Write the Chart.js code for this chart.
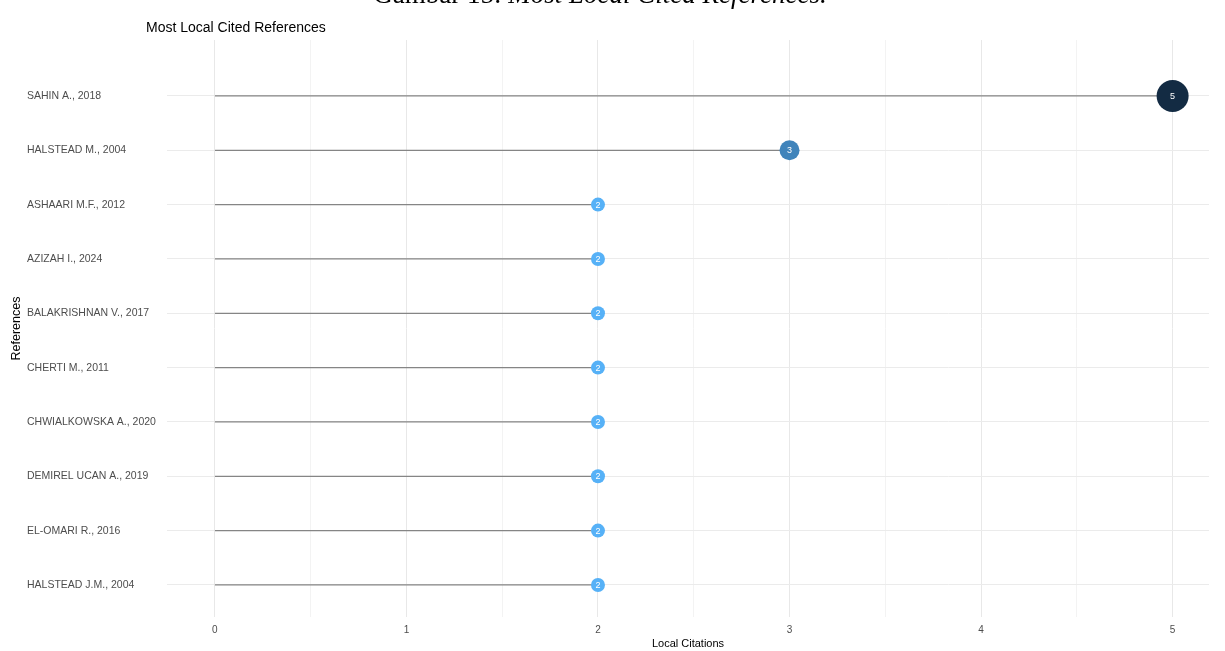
<!DOCTYPE html>
<html>
<head>
<meta charset="utf-8">
<script src="https://cdn.jsdelivr.net/npm/chart.js@4"></script>
<style>
  body { margin: 0; background: #fff; }
  #wrap { position: relative; width: 1225px; height: 651px; overflow: hidden; }
  #caption {
    position: absolute; left: 0; width: 1200px; top: -22px;
    text-align: center; font-family: "Liberation Serif", "Times New Roman", serif;
    font-size: 27px; color: #000; line-height: 32px;
  }
  canvas { position: absolute; left: 0; top: 0; }
</style>
</head>
<body>
<div id="wrap">
  <canvas id="myChart" width="1225" height="651"></canvas>
  <div id="caption">Gambar 15: <i>Most Local Cited References.</i></div>
</div>
<script>
var refs = ['SAHIN A., 2018', 'HALSTEAD M., 2004', 'ASHAARI M.F., 2012', 'AZIZAH I., 2024',
            'BALAKRISHNAN V., 2017', 'CHERTI M., 2011', 'CHWIALKOWSKA A., 2020',
            'DEMIREL UCAN A., 2019', 'EL-OMARI R., 2016', 'HALSTEAD J.M., 2004'];
var citations = [5, 3, 2, 2, 2, 2, 2, 2, 2, 2];
var xTicks = [0, 1, 2, 3, 4, 5];

// colour goes from light blue (low) to dark navy (high), like ggplot default gradient
function getColor(v) {
    var lo = [86, 177, 247], hi = [19, 43, 67];
    var t = (v - 2) / 3;
    var c = lo.map(function(l, i) { return Math.round(l + (hi[i] - l) * t); });
    return 'rgb(' + c.join(',') + ')';
}
function getRadius(v) {
    return 7 + (v - 2) * 3;
}

var datasets = [];
citations.forEach(function(v, i) {
    datasets.push({
        type: 'line',
        data: [{x: 0, y: i}, {x: v, y: i}],
        borderColor: '#858585',
        borderWidth: 1.3,
        pointRadius: 0,
        showLine: true,
        order: 2
    });
});
datasets.push({
    label: 'Local Citations',
    data: citations.map(function(v, i) { return {x: v, y: i}; }),
    pointRadius: citations.map(getRadius),
    pointBackgroundColor: citations.map(getColor),
    pointBorderWidth: 0,
    order: 1
});

var extras = {
    id: 'extras',
    afterDatasetsDraw: function(chart) {
        var ctx = chart.ctx;
        var meta = chart.getDatasetMeta(chart.data.datasets.length - 1);
        ctx.save();
        ctx.fillStyle = '#fff';
        ctx.font = '9px "Liberation Sans", Arial, sans-serif';
        ctx.textAlign = 'center';
        ctx.textBaseline = 'middle';
        meta.data.forEach(function(pt, i) {
            ctx.fillText(String(citations[i]), pt.x, pt.y + 0.5);
        });
        ctx.restore();
    },
    afterDraw: function(chart) {
        var ctx = chart.ctx;
        var area = chart.chartArea;
        ctx.save();
        ctx.fillStyle = '#000';
        ctx.font = '14px "Liberation Sans", Arial, sans-serif';
        ctx.textBaseline = 'alphabetic';
        ctx.fillText('Most Local Cited References', 146, 32);
        // y axis title
        ctx.translate(17, (area.top + area.bottom) / 2);
        ctx.rotate(-Math.PI / 2);
        ctx.textAlign = 'center';
        ctx.textBaseline = 'middle';
        ctx.font = '12.5px "Liberation Sans", Arial, sans-serif';
        ctx.fillText('References', 0, 0);
        ctx.restore();
    }
};

var ctx = document.getElementById('myChart').getContext('2d');
var myChart = new Chart(ctx, {
    type: 'scatter',
    data: { datasets: datasets },
    plugins: [extras],
    options: {
        responsive: false,
        animation: false,
        layout: { padding: { left: 27, right: 4, top: 40, bottom: 0 } },
        plugins: {
            legend: { display: false },
            tooltip: { enabled: false }
        },
        scales: {
            x: {
                type: 'linear',
                min: -0.25,
                max: 5.19,
                afterBuildTicks: function(scale) {
                    var t = [];
                    xTicks.forEach(function(v, i) {
                        t.push({value: v});
                        if (i < xTicks.length - 1) t.push({value: v + 0.5});
                    });
                    scale.ticks = t;
                },
                afterFit: function(scale) {
                    scale.height = 34;
                },
                border: { display: false },
                grid: {
                    drawTicks: false,
                    color: function(c) {
                        return Number.isInteger(c.tick.value) ? '#e8e8e8' : '#f3f3f3';
                    },
                    lineWidth: 1
                },
                ticks: {
                    padding: 7,
                    color: '#4d4d4d',
                    font: { family: '"Liberation Sans", Arial, sans-serif', size: 10 },
                    callback: function(v) { return Number.isInteger(v) ? String(v) : ''; }
                },
                title: {
                    display: true,
                    text: 'Local Citations',
                    color: '#000',
                    padding: 0,
                    font: { family: '"Liberation Sans", Arial, sans-serif', size: 11 }
                }
            },
            y: {
                type: 'linear',
                reverse: true,
                min: -1.03,
                max: 9.59,
                afterBuildTicks: function(scale) {
                    scale.ticks = refs.map(function(r, i) { return {value: i}; });
                },
                afterFit: function(scale) {
                    scale.width = 140;
                },
                border: { display: false },
                grid: { drawTicks: false, color: '#ebebeb', lineWidth: 1 },
                ticks: {
                    crossAlign: 'far',
                    color: '#4d4d4d',
                    font: { family: '"Liberation Sans", Arial, sans-serif', size: 10.5 },
                    callback: function(v) { return refs[v]; }
                }
            }
        }
    }
});
</script>
</body>
</html>
